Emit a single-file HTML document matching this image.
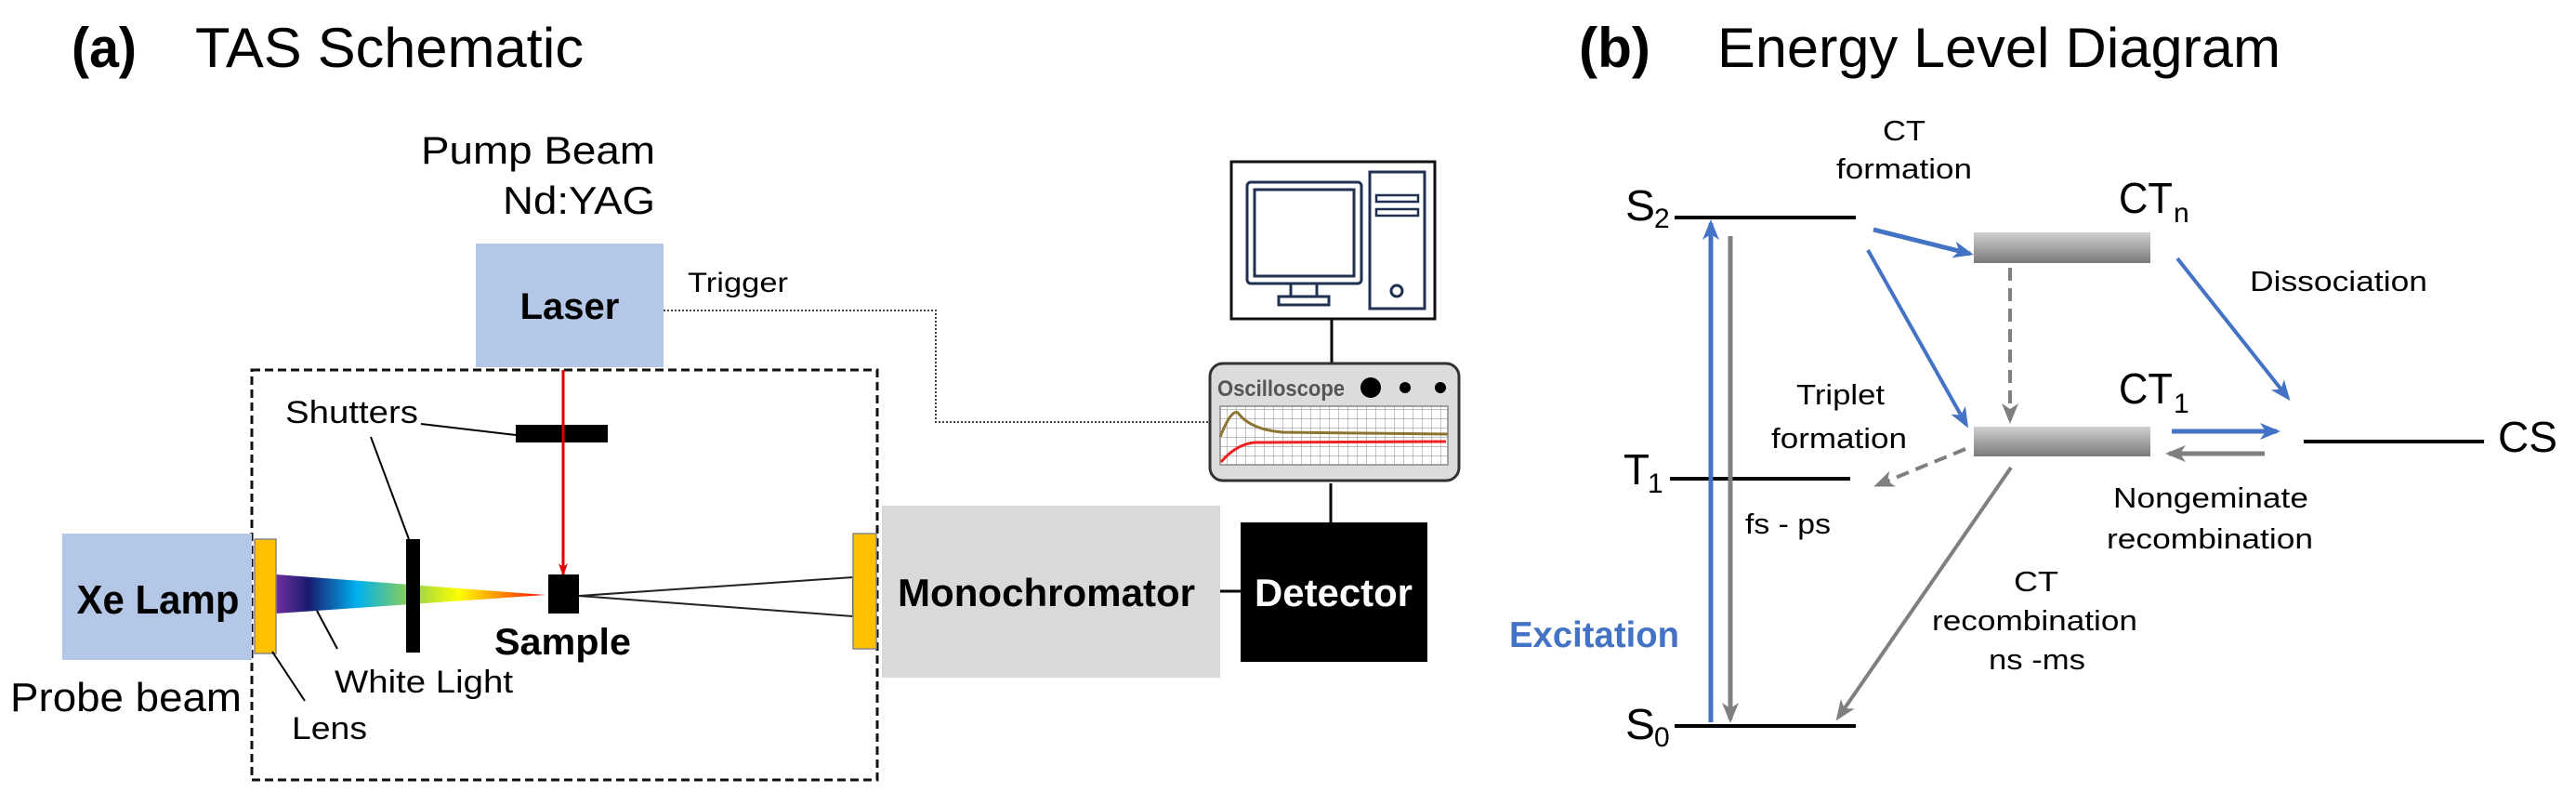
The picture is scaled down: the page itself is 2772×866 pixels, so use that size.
<!DOCTYPE html>
<html><head><meta charset="utf-8"><style>
html,body{margin:0;padding:0;background:#fff;}
svg{display:block;font-family:"Liberation Sans",Arial,sans-serif;}
</style></head><body>
<svg width="2772" height="866" viewBox="0 0 2772 866" xmlns="http://www.w3.org/2000/svg">
<defs>
<linearGradient id="spec" x1="0" x2="1" y1="0" y2="0">
<stop offset="0" stop-color="#7030a0"/><stop offset="0.12" stop-color="#1a1a6e"/>
<stop offset="0.3" stop-color="#00b0f0"/><stop offset="0.5" stop-color="#92d050"/>
<stop offset="0.68" stop-color="#ffff00"/><stop offset="0.85" stop-color="#ff8000"/>
<stop offset="1" stop-color="#ff0000"/></linearGradient>
<linearGradient id="ctg" x1="0" x2="0" y1="0" y2="1">
<stop offset="0" stop-color="#d0d0d0"/><stop offset="1" stop-color="#7a7a7a"/></linearGradient>
<pattern id="grid" width="10" height="10" patternUnits="userSpaceOnUse">
<rect width="10" height="10" fill="#fff"/><path d="M0 0H10M0 0V10" stroke="#999" stroke-width="1.2"/></pattern>
<marker id="abB" markerWidth="22" markerHeight="22" refX="18" refY="11" orient="auto" markerUnits="userSpaceOnUse" viewBox="0 0 22 22"><path d="M0,2 L22,11 L0,20 L6,11z" fill="#4472c4"/></marker>
<marker id="agB" markerWidth="22" markerHeight="22" refX="18" refY="11" orient="auto" markerUnits="userSpaceOnUse" viewBox="0 0 22 22"><path d="M0,2 L22,11 L0,20 L6,11z" fill="#7f7f7f"/></marker>
<marker id="ar" markerWidth="14" markerHeight="14" refX="12" refY="7" orient="auto" markerUnits="userSpaceOnUse" viewBox="0 0 14 14"><path d="M0,2 L14,7 L0,12 L4,7z" fill="#e00000"/></marker>
</defs>

<!-- Panel a -->
<text x="77" y="72" font-size="60" font-weight="bold" textLength="70" lengthAdjust="spacingAndGlyphs">(a)</text>
<text x="210" y="72" font-size="60" textLength="418" lengthAdjust="spacingAndGlyphs">TAS Schematic</text>
<text x="453" y="176" font-size="42" textLength="252" lengthAdjust="spacingAndGlyphs">Pump Beam</text>
<text x="541" y="230" font-size="42" textLength="164" lengthAdjust="spacingAndGlyphs">Nd:YAG</text>

<rect x="512" y="262" width="202" height="133" fill="#b4c7e7"/>
<text x="613" y="343" font-size="40" font-weight="bold" text-anchor="middle">Laser</text>
<text x="740" y="314" font-size="30" textLength="108" lengthAdjust="spacingAndGlyphs">Trigger</text>
<polyline points="714,334 1007,334 1007,454 1300,454" fill="none" stroke="#444" stroke-width="2" stroke-dasharray="2,2"/>

<rect x="271" y="398" width="673" height="441" fill="none" stroke="#111" stroke-width="3" stroke-dasharray="9,5"/>

<rect x="555" y="457" width="99" height="19" fill="#000"/>
<text x="307" y="455" font-size="34" textLength="143" lengthAdjust="spacingAndGlyphs">Shutters</text>
<line x1="453" y1="456" x2="555" y2="468" stroke="#000" stroke-width="2"/>
<line x1="399" y1="470" x2="440" y2="580" stroke="#000" stroke-width="2"/>
<line x1="606" y1="398" x2="606" y2="618" stroke="#e00000" stroke-width="3" marker-end="url(#ar)"/>

<rect x="67" y="574" width="204" height="136" fill="#b4c7e7"/>
<text x="170" y="660" font-size="44" font-weight="bold" text-anchor="middle" textLength="175" lengthAdjust="spacingAndGlyphs">Xe Lamp</text>
<polygon points="297,618 587,640 297,660" fill="url(#spec)"/>
<rect x="437" y="580" width="15" height="122" fill="#000"/>
<rect x="274" y="580" width="23" height="123" fill="#ffc000" stroke="#888" stroke-width="1.5"/>
<rect x="590" y="618" width="33" height="42" fill="#000"/>
<text x="532" y="704" font-size="40" font-weight="bold" textLength="147" lengthAdjust="spacingAndGlyphs">Sample</text>
<polyline points="918,621 623,641 918,663" fill="none" stroke="#222" stroke-width="2"/>
<line x1="918" y1="621" x2="918" y2="663" stroke="#222" stroke-width="2"/>
<rect x="918" y="574" width="25" height="124" fill="#ffc000" stroke="#888" stroke-width="1.5"/>
<text x="11" y="765" font-size="44" textLength="249" lengthAdjust="spacingAndGlyphs">Probe beam</text>
<text x="314" y="795" font-size="34" textLength="81" lengthAdjust="spacingAndGlyphs">Lens</text>
<line x1="293" y1="701" x2="328" y2="754" stroke="#000" stroke-width="2"/>
<text x="360" y="745" font-size="34" textLength="192" lengthAdjust="spacingAndGlyphs">White Light</text>
<line x1="341" y1="657" x2="363" y2="698" stroke="#000" stroke-width="2"/>

<rect x="949" y="544" width="364" height="185" fill="#d9d9d9"/>
<text x="966" y="652" font-size="42" font-weight="bold" textLength="320" lengthAdjust="spacingAndGlyphs">Monochromator</text>
<line x1="1313" y1="636" x2="1335" y2="636" stroke="#000" stroke-width="3"/>
<rect x="1335" y="562" width="201" height="150" fill="#000"/>
<text x="1350" y="652" font-size="42" font-weight="bold" fill="#fff" textLength="170" lengthAdjust="spacingAndGlyphs">Detector</text>

<line x1="1432" y1="520" x2="1432" y2="562" stroke="#000" stroke-width="3"/>
<line x1="1433" y1="343" x2="1433" y2="390" stroke="#000" stroke-width="3"/>
<rect x="1302" y="391" width="268" height="126" rx="14" fill="#dcdcdc" stroke="#333" stroke-width="3"/>
<text x="1310" y="426" font-size="24" fill="#555" font-weight="bold" textLength="137" lengthAdjust="spacingAndGlyphs">Oscilloscope</text>
<circle cx="1475" cy="417" r="11" fill="#000"/>
<circle cx="1512" cy="417" r="6" fill="#000"/>
<circle cx="1550" cy="417" r="6" fill="#000"/>
<rect x="1313" y="437" width="245" height="63" fill="url(#grid)" stroke="#888" stroke-width="1.5"/>
<path d="M1313,470 Q1325,440 1332,444 Q1345,462 1380,465 L1558,467" fill="none" stroke="#8b7530" stroke-width="3"/>
<path d="M1314,497 Q1330,478 1350,476 L1556,475" fill="none" stroke="#ee2222" stroke-width="3"/>

<rect x="1325" y="174" width="219" height="169" fill="#fff" stroke="#111" stroke-width="3"/>
<rect x="1342" y="196" width="123" height="109" rx="4" fill="none" stroke="#1f3050" stroke-width="3"/>
<rect x="1350" y="204" width="107" height="93" fill="none" stroke="#1f3050" stroke-width="3"/>
<rect x="1389" y="305" width="28" height="14" fill="none" stroke="#1f3050" stroke-width="3"/>
<rect x="1376" y="319" width="54" height="9" fill="none" stroke="#1f3050" stroke-width="3"/>
<rect x="1474" y="185" width="59" height="147" fill="none" stroke="#1f3050" stroke-width="3"/>
<rect x="1481" y="210" width="45" height="7" fill="none" stroke="#1f3050" stroke-width="2.5"/>
<rect x="1481" y="225" width="45" height="7" fill="none" stroke="#1f3050" stroke-width="2.5"/>
<circle cx="1503" cy="313" r="6" fill="none" stroke="#1f3050" stroke-width="3"/>

<!-- Panel b -->
<text x="1699" y="72" font-size="60" font-weight="bold" textLength="77" lengthAdjust="spacingAndGlyphs">(b)</text>
<text x="1848" y="72" font-size="60" textLength="606" lengthAdjust="spacingAndGlyphs">Energy Level Diagram</text>

<g font-size="46">
<text x="1749" y="237" textLength="32" lengthAdjust="spacingAndGlyphs">S</text><text x="1780" y="245" font-size="30">2</text>
<text x="1749" y="795" textLength="32" lengthAdjust="spacingAndGlyphs">S</text><text x="1780" y="803" font-size="30">0</text>
<text x="1747" y="521" textLength="28" lengthAdjust="spacingAndGlyphs">T</text><text x="1773" y="530" font-size="30">1</text>
<text x="2280" y="229" textLength="58" lengthAdjust="spacingAndGlyphs">CT</text><text x="2339" y="239" font-size="30">n</text>
<text x="2280" y="434" textLength="58" lengthAdjust="spacingAndGlyphs">CT</text><text x="2339" y="444" font-size="30">1</text>
<text x="2688" y="486" textLength="64" lengthAdjust="spacingAndGlyphs">CS</text>
</g>
<g stroke="#000" stroke-width="4">
<line x1="1802" y1="234" x2="1997" y2="234"/>
<line x1="1797" y1="515" x2="1991" y2="515"/>
<line x1="1802" y1="781" x2="1997" y2="781"/>
<line x1="2479" y1="475" x2="2673" y2="475"/>
</g>
<rect x="2124" y="250" width="190" height="33" fill="url(#ctg)"/>
<rect x="2124" y="459" width="190" height="32" fill="url(#ctg)"/>

<line x1="1841" y1="777" x2="1841" y2="240" stroke="#4472c4" stroke-width="5" marker-end="url(#abB)"/>
<line x1="1862" y1="254" x2="1862" y2="774" stroke="#7f7f7f" stroke-width="5" marker-end="url(#agB)"/>
<line x1="2016" y1="247" x2="2120" y2="273" stroke="#4472c4" stroke-width="5" marker-end="url(#abB)"/>
<line x1="2010" y1="269" x2="2116" y2="457" stroke="#4472c4" stroke-width="4" marker-end="url(#abB)"/>
<line x1="2163" y1="288" x2="2163" y2="452" stroke="#7f7f7f" stroke-width="4" stroke-dasharray="14,8" marker-end="url(#agB)"/>
<line x1="2343" y1="278" x2="2462" y2="428" stroke="#4472c4" stroke-width="4" marker-end="url(#abB)"/>
<line x1="2115" y1="483" x2="2020" y2="522" stroke="#7f7f7f" stroke-width="4" stroke-dasharray="14,8" marker-end="url(#agB)"/>
<line x1="2337" y1="464" x2="2450" y2="464" stroke="#4472c4" stroke-width="5" marker-end="url(#abB)"/>
<line x1="2437" y1="488" x2="2334" y2="488" stroke="#7f7f7f" stroke-width="5" marker-end="url(#agB)"/>
<line x1="2164" y1="503" x2="1978" y2="772" stroke="#7f7f7f" stroke-width="4" marker-end="url(#agB)"/>

<g font-size="31">
<text x="2026" y="151" textLength="46" lengthAdjust="spacingAndGlyphs">CT</text>
<text x="1976" y="192" textLength="146" lengthAdjust="spacingAndGlyphs">formation</text>
<text x="2421" y="313" textLength="191" lengthAdjust="spacingAndGlyphs">Dissociation</text>
<text x="1933" y="435" textLength="95" lengthAdjust="spacingAndGlyphs">Triplet</text>
<text x="1906" y="482" textLength="146" lengthAdjust="spacingAndGlyphs">formation</text>
<text x="2274" y="546" textLength="210" lengthAdjust="spacingAndGlyphs">Nongeminate</text>
<text x="2267" y="590" textLength="222" lengthAdjust="spacingAndGlyphs">recombination</text>
<text x="1878" y="574" textLength="92" lengthAdjust="spacingAndGlyphs">fs - ps</text>
<text x="2167" y="636" textLength="48" lengthAdjust="spacingAndGlyphs">CT</text>
<text x="2079" y="678" textLength="221" lengthAdjust="spacingAndGlyphs">recombination</text>
<text x="2140" y="720" textLength="104" lengthAdjust="spacingAndGlyphs">ns -ms</text>
</g>
<text x="1624" y="696" font-size="39" font-weight="bold" fill="#4472c4" textLength="183" lengthAdjust="spacingAndGlyphs">Excitation</text>
</svg>
</body></html>
